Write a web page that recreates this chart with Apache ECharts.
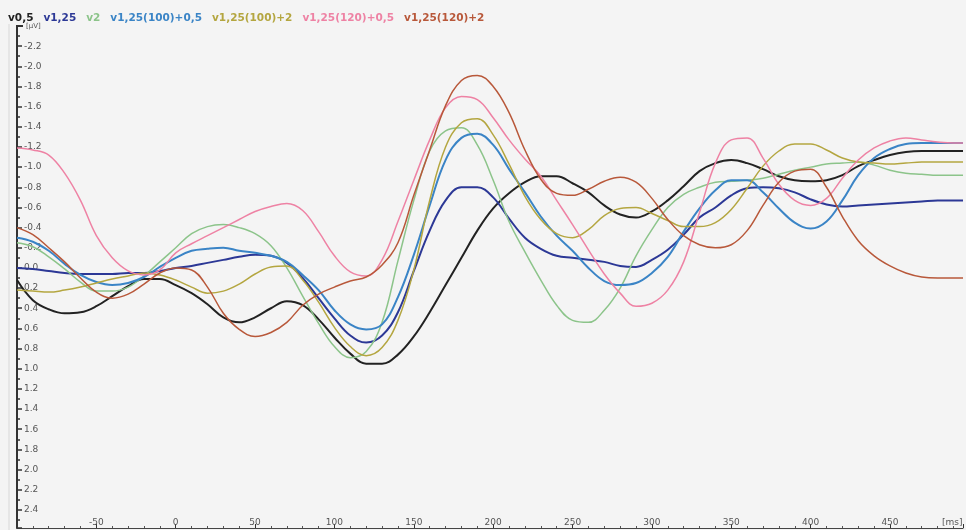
<!DOCTYPE html>
<html>
<head>
<meta charset="utf-8">
<script src="https://cdn.jsdelivr.net/npm/echarts@6/dist/echarts.min.js"></script>
<style>
html,body{margin:0;padding:0;background:#f4f4f4;}
#c{width:966px;height:530px;}
</style>
</head>
<body>
<div id="c"></div>
<script>
// time axis (ms)
const times = [-100,-90,-80,-70,-60,-50,-40,-30,-20,-10,0,10,20,30,40,50,60,70,80,90,100,110,120,130,140,150,160,170,180,190,200,210,220,230,240,250,260,270,280,290,300,310,320,330,340,350,360,370,380,390,400,410,420,430,440,450,460,470,480,490,496];

// series names (legend)
const seriesNames = ["v0,5","v1,25","v2","v1,25(100)+0,5","v1,25(100)+2","v1,25(120)+0,5","v1,25(120)+2"];
const seriesColors = ["#222222","#2c3896","#8cc48a","#3a84c6","#b4a640","#ee82a4","#b8583a"];

// values in µV (axis is inverted: negative up)
const v0_5 = [0.12,0.32,0.41,0.45,0.44,0.38,0.28,0.18,0.11,0.11, 0.17,0.25,0.36,0.49,0.54,0.49,0.40,0.33,0.37,0.51, 0.69,0.85,0.95,0.95,0.86,0.68,0.44,0.17,-0.10,-0.37, -0.59,-0.74,-0.85,-0.91,-0.91,-0.84,-0.75,-0.62,-0.53,-0.50, -0.56,-0.67,-0.81,-0.96,-1.04,-1.07,-1.04,-0.98,-0.91,-0.87, -0.86,-0.87,-0.92,-1.01,-1.07,-1.12,-1.15,-1.16,-1.16,-1.16, -1.16];
const v1_25 = [0.00,0.01,0.03,0.05,0.06,0.06,0.06,0.05,0.05,0.03, 0.00,-0.02,-0.05,-0.08,-0.11,-0.13,-0.12,-0.05,0.10,0.30, 0.50,0.67,0.74,0.67,0.44,0.03,-0.37,-0.67,-0.80,-0.80, -0.70,-0.49,-0.30,-0.19,-0.12,-0.10,-0.08,-0.06,-0.02,-0.01, -0.08,-0.18,-0.33,-0.50,-0.60,-0.72,-0.79,-0.80,-0.79,-0.75, -0.68,-0.63,-0.61,-0.62,-0.63,-0.64,-0.65,-0.66,-0.67,-0.67, -0.67];
const v2 = [-0.25,-0.21,-0.11,0.01,0.14,0.23,0.23,0.19,0.08,-0.06, -0.20,-0.34,-0.41,-0.43,-0.40,-0.34,-0.22,0.00,0.28,0.55, 0.78,0.89,0.83,0.54,-0.07,-0.67,-1.16,-1.36,-1.39,-1.22, -0.87,-0.46,-0.16,0.12,0.37,0.52,0.54,0.42,0.20,-0.12, -0.38,-0.60,-0.73,-0.80,-0.85,-0.86,-0.87,-0.89,-0.93,-0.97, -1.00,-1.03,-1.04,-1.05,-1.02,-0.97,-0.94,-0.93,-0.92,-0.92, -0.92];
const v1_25_100_0_5 = [-0.30,-0.26,-0.17,-0.04,0.07,0.14,0.17,0.15,0.09,-0.01, -0.10,-0.17,-0.19,-0.20,-0.17,-0.15,-0.12,-0.06,0.07,0.22, 0.42,0.56,0.61,0.56,0.29,-0.13,-0.62,-1.07,-1.29,-1.33, -1.22,-0.98,-0.75,-0.51,-0.32,-0.17,0.00,0.13,0.17,0.15, 0.05,-0.11,-0.36,-0.59,-0.77,-0.87,-0.87,-0.75,-0.59,-0.45, -0.39,-0.46,-0.67,-0.92,-1.09,-1.18,-1.23,-1.24,-1.24,-1.24, -1.24];
const v1_25_100_2 = [0.22,0.23,0.24,0.22,0.19,0.15,0.11,0.08,0.05,0.07, 0.12,0.19,0.25,0.23,0.16,0.06,-0.01,-0.02,0.12,0.34, 0.59,0.78,0.87,0.79,0.52,0.02,-0.67,-1.20,-1.44,-1.48, -1.32,-1.03,-0.71,-0.48,-0.34,-0.30,-0.38,-0.52,-0.59,-0.60, -0.54,-0.47,-0.41,-0.41,-0.45,-0.58,-0.79,-1.01,-1.16,-1.23, -1.23,-1.17,-1.09,-1.05,-1.04,-1.03,-1.04,-1.05,-1.05,-1.05, -1.05];
const v1_25_120_0_5 = [-1.19,-1.17,-1.12,-0.94,-0.67,-0.32,-0.10,0.03,0.07,0.02, -0.15,-0.24,-0.32,-0.40,-0.48,-0.56,-0.61,-0.64,-0.57,-0.36, -0.12,0.04,0.08,-0.08,-0.46,-0.87,-1.27,-1.59,-1.70,-1.67, -1.49,-1.27,-1.08,-0.91,-0.67,-0.43,-0.18,0.06,0.25,0.38, 0.35,0.22,-0.06,-0.55,-1.04,-1.27,-1.29,-1.09,-0.83,-0.67, -0.62,-0.69,-0.89,-1.07,-1.19,-1.26,-1.29,-1.27,-1.25,-1.24, -1.24];
const v1_25_120_2 = [-0.40,-0.33,-0.20,-0.06,0.10,0.24,0.30,0.26,0.16,0.05, 0.00,0.02,0.19,0.45,0.61,0.68,0.64,0.54,0.37,0.26, 0.19,0.13,0.09,-0.03,-0.25,-0.72,-1.17,-1.61,-1.86,-1.91, -1.80,-1.54,-1.17,-0.88,-0.74,-0.72,-0.78,-0.86,-0.90,-0.85, -0.69,-0.48,-0.32,-0.23,-0.20,-0.23,-0.37,-0.62,-0.85,-0.96, -0.98,-0.80,-0.51,-0.27,-0.12,-0.02,0.05,0.09,0.10,0.10, 0.10];

const allValues = [v0_5, v1_25, v2, v1_25_100_0_5, v1_25_100_2, v1_25_120_0_5, v1_25_120_2];

const chart = echarts.init(document.getElementById('c'), null, {renderer:'canvas'});
const font = 'DejaVu Sans, Verdana, sans-serif';

const series = allValues.map((vals, i) => ({
  name: seriesNames[i],
  type: 'line',
  data: times.map((t, k) => [t, vals[k]]),
  smooth: 0.4,
  showSymbol: false,
  symbol: 'none',
  lineStyle: {color: seriesColors[i], width: (i === 0 || i === 1 || i === 3) ? 2 : 1.5},
  itemStyle: {color: seriesColors[i]},
  emphasis: {disabled: true},
  z: 2
}));

chart.setOption({
  backgroundColor: '#f4f4f4',
  animation: false,
  textStyle: {fontFamily: font},
  legend: {
    left: -2, top: 8,
    itemWidth: 0, itemHeight: 0, itemGap: 5,
    selectedMode: false,
    textStyle: {fontFamily: font, fontSize: 10.5, fontWeight: 'bold'},
    data: seriesNames.map((n, i) => ({name: n, icon: 'rect', textStyle: {color: seriesColors[i]}}))
  },
  grid: {left: 17, right: 0, top: 26, bottom: 2, containLabel: false},
  xAxis: {
    type: 'value', min: -100, max: 496, interval: 50,
    axisLine: {show: true, onZero: false, lineStyle: {color: '#444', width: 1}},
    axisTick: {show: true, inside: true, length: 4, lineStyle: {color: '#333'}},
    minorTick: {show: true, splitNumber: 5, length: 2, lineStyle: {color: '#555'}},
    splitLine: {show: false},
    axisLabel: {inside: true, margin: 1, fontSize: 9, color: '#555', fontFamily: font,
      formatter: v => ((v === -100 || v % 50 !== 0) ? '' : String(v))}
  },
  yAxis: {
    type: 'value', inverse: true, min: -2.4, max: 2.58, interval: 0.2,
    axisLine: {show: true, onZero: false, lineStyle: {color: '#333', width: 2}},
    axisTick: {show: true, inside: true, length: 5, lineStyle: {color: '#333', width: 1.5}},
    minorTick: {show: true, splitNumber: 2, length: 3, lineStyle: {color: '#333', width: 1.5}},
    splitLine: {show: false},
    axisLabel: {inside: true, margin: 7, fontSize: 9, color: '#555', fontFamily: font,
      formatter: v => (v < -2.35 || v > 2.45) ? '' : v.toFixed(1)}
  },
  graphic: [
    {type: 'text', left: 942, top: 518, style: {text: '[ms]', fontSize: 9, fill: '#555', fontFamily: font}},
    {type: 'text', left: 26, top: 23, style: {text: '[µV]', fontSize: 7, fill: '#555', fontFamily: font}},
    {type: 'line', shape: {x1: 16, y1: 26, x2: 23, y2: 26}, style: {stroke: '#333', lineWidth: 2}},
    {type: 'line', shape: {x1: 9, y1: 24, x2: 9, y2: 530}, style: {stroke: '#d8d8d8', lineWidth: 1}}
  ],
  series: series
});
</script>
</body>
</html>
